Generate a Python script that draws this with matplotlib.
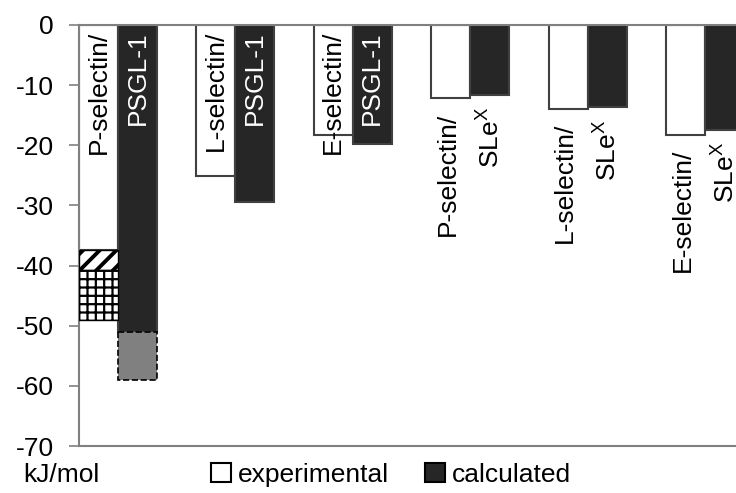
import numpy as np
import matplotlib
matplotlib.use("Agg")
import matplotlib.pyplot as plt
from matplotlib.patches import Patch

plt.rcParams['font.family'] = ['Liberation Sans', 'DejaVu Sans']
plt.rcParams['font.size'] = 19
plt.rcParams['axes.unicode_minus'] = False
plt.rcParams['mathtext.fontset'] = 'custom'
plt.rcParams['mathtext.rm'] = 'Liberation Sans'

# receptor / ligand pairs
receptors = ['P-selectin/', 'L-selectin/', 'E-selectin/',
             'P-selectin/', 'L-selectin/', 'E-selectin/']
ligands = ['PSGL-1', 'PSGL-1', 'PSGL-1',
           r'SLe$^\mathregular{X}$', r'SLe$^\mathregular{X}$', r'SLe$^\mathregular{X}$']

# binding energies, kJ/mol
experimental = [-37.4, -25.1, -18.3, -12.2, -13.9, -18.3]
calculated = [-51.0, -29.4, -19.8, -11.6, -13.7, -17.4]

# extra ranges for P-selectin/PSGL-1
exp_hatch_range = (-37.4, -40.8)
exp_grid_range = (-40.8, -49.1)
calc_extra_range = (-51.0, -59.0)

dark = '#262626'
edge = '#404040'

fig = plt.figure(figsize=(7.36, 4.93), dpi=100)
ax = fig.add_axes([79/736, 1-446/493, 1-79/736, (446-25)/493])

x = np.arange(len(receptors))
w = 39/117.4

ax.bar(x - w/2, experimental, w, color='white', edgecolor=edge, linewidth=1.5, zorder=2)
ax.bar(x + w/2, calculated, w, color=dark, edgecolor=edge, linewidth=1.5, zorder=2)

# hatched parts of the first pair
plt.rcParams['hatch.linewidth'] = 2.8
ax.bar(x[0] - w/2, exp_hatch_range[1] - exp_hatch_range[0], w, bottom=exp_hatch_range[0],
       color='white', edgecolor='black', hatch='//', linewidth=1, zorder=3)
plt.rcParams['hatch.linewidth'] = 1.6
ax.bar(x[0] - w/2, exp_grid_range[1] - exp_grid_range[0], w, bottom=exp_grid_range[0],
       color='white', edgecolor='black', hatch='++', linewidth=1, zorder=3)
ax.bar(x[0] + w/2, calc_extra_range[1] - calc_extra_range[0], w, bottom=calc_extra_range[0],
       color='#808080', edgecolor='black', linestyle='--', linewidth=1.2, zorder=3)

for i in range(len(receptors)):
    if i < 3:
        # labels inside the bars
        ax.annotate(receptors[i], (x[i] - w/2, 0), xytext=(0, -6), textcoords='offset pixels',
                    rotation=90, ha='center', va='top', color='black', zorder=4)
        ax.annotate(ligands[i], (x[i] + w/2, 0), xytext=(0, -6), textcoords='offset pixels',
                    rotation=90, ha='center', va='top', color='white', zorder=4)
    else:
        # labels below the bars
        ax.annotate(receptors[i], (x[i] - w/2, experimental[i]), xytext=(-3, -14),
                    textcoords='offset pixels', rotation=90, ha='center', va='top', zorder=4)
        ax.annotate(ligands[i], (x[i] + w/2, calculated[i]), xytext=(0, -12),
                    textcoords='offset pixels', rotation=90, ha='center', va='top', zorder=4)

ax.set_xlim(-w, -w + 657/117.4)
ax.set_ylim(-70, 0)
ax.set_yticks(np.arange(-70, 1, 10))
ax.set_xticks([])
ax.tick_params(axis='y', direction='out', length=7, width=1.2, color='#808080', pad=11)
for s in ['left', 'top', 'bottom']:
    ax.spines[s].set_color('#808080')
    ax.spines[s].set_linewidth(1.5)
ax.spines['right'].set_visible(False)

fig.text(23/736, 1-475/493, 'kJ/mol', ha='left', va='center')

handles = [Patch(facecolor='white', edgecolor='black', linewidth=1.5),
           Patch(facecolor=dark, edgecolor='black', linewidth=1.5)]
fig.legend(handles, ['experimental', 'calculated'], loc='center', ncol=2,
           bbox_to_anchor=(391/736, 1-475/493), frameon=False,
           handlelength=0.75, handleheight=0.75, handletextpad=0.25,
           columnspacing=1.4, borderpad=0)

fig.savefig('out.png', dpi=100)
